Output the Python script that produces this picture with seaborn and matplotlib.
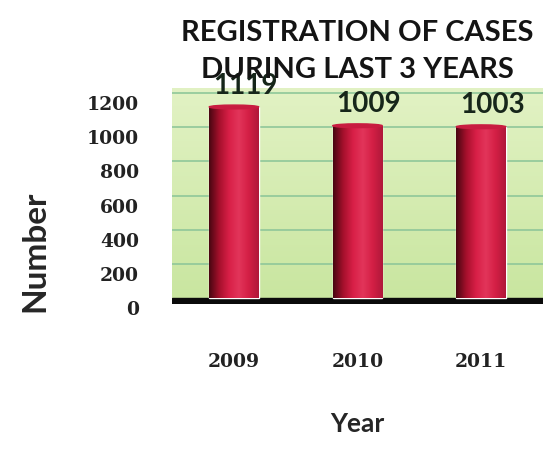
import numpy as np
import pandas as pd
import matplotlib
matplotlib.use('Agg')
import matplotlib.pyplot as plt
import matplotlib.transforms as mtransforms
import seaborn as sns

# Data
years = ['2009', '2010', '2011']
cases = [1119, 1009, 1003]
y_ticks = [0, 200, 400, 600, 800, 1000, 1200]

df = pd.DataFrame({'Year': years, 'Number': cases})

sns.set_style("white")
plt.rcParams['font.family'] = ['Lato', 'DejaVu Sans']

fig = plt.figure(figsize=(5.59, 4.49), dpi=100)
ax = fig.add_axes([0.308, 0.323, 0.663, 0.481])

# green wall with gradient
grad = np.linspace(0, 1, 256).reshape(-1, 1)
wall = matplotlib.colors.LinearSegmentedColormap.from_list('wall', ['#c9e6a0', '#e2f2c4'])
ax.imshow(grad, cmap=wall, aspect='auto', extent=[-0.5, 2.5, 0, 1230], origin='lower', zorder=0)

sns.barplot(data=df, x='Year', y='Number', color='#d41f45', width=0.4, saturation=1, ax=ax, zorder=3)
bars = list(ax.containers[0])

ax.set_xlim(-0.5, 2.5)
ax.set_ylim(-35, 1230)
for t in y_ticks[1:]:
    ax.axhline(t, color='#8fc79a', lw=1.2, zorder=1)
# black floor
ax.axhspan(-35, 0, color='#0a0a0a', zorder=2)

# cylinder shading on each bar
shade = matplotlib.colors.LinearSegmentedColormap.from_list(
    'cyl', ['#4a0612', '#a5102c', '#d81f47', '#e2355a', '#d41f45', '#b0183a'])
for p in bars:
    x0, w, h = p.get_x(), p.get_width(), p.get_height()
    im = ax.imshow(np.linspace(0, 1, 64).reshape(1, -1), cmap=shade, aspect='auto',
                   extent=[x0, x0 + w, 0, h], zorder=4)
    im.set_clip_path(p)
    # top cap
    ax.add_patch(matplotlib.patches.Ellipse((x0 + w / 2, h), w, 22, color='#c81c40', zorder=5))
ax.set_xlim(-0.5, 2.5)
ax.set_ylim(-35, 1230)

for i, v in enumerate(cases):
    ax.annotate(str(v), (i, v), xytext=(8, 6), textcoords='offset points', ha='center', va='bottom',
                fontsize=20, color='#16261a', fontweight='bold', zorder=6, annotation_clip=False)

ax.set_yticks(y_ticks)
ax.set_yticklabels([str(t) for t in y_ticks])
ax.tick_params(axis='y', length=0, pad=24)
ax.tick_params(axis='x', length=0, pad=35)
for lab in ax.get_yticklabels() + ax.get_xticklabels():
    lab.set_fontfamily('DejaVu Serif')
    lab.set_fontweight('bold')
    lab.set_fontsize(13.5)
    lab.set_color('#222222')
for lab in ax.get_yticklabels():
    lab.set_transform(lab.get_transform() + mtransforms.ScaledTranslation(0, -0.1, fig.dpi_scale_trans))

ax.set_xlabel('Year', fontsize=19, fontweight='bold', labelpad=30)
ax.set_ylabel('Number', fontsize=24, fontweight='bold')
ax.yaxis.set_label_coords(-0.33, 0.245)
for s in ax.spines.values():
    s.set_visible(False)

fig.text(0.639, 0.885, 'REGISTRATION OF CASES\nDURING LAST 3 YEARS', ha='center', va='center',
         fontsize=21, fontweight='bold', color='#141414', linespacing=1.55, zorder=10)

fig.savefig('out.png', dpi=100)
